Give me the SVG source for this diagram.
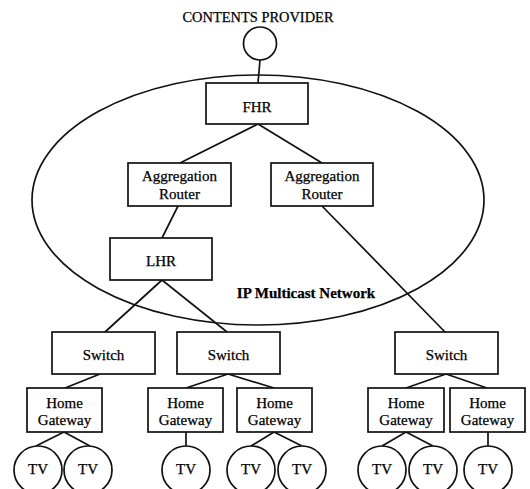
<svg xmlns="http://www.w3.org/2000/svg" width="530" height="489" viewBox="0 0 530 489" font-family="'Liberation Serif', 'DejaVu Serif', serif">
<style>
.box{fill:#fff;stroke:#111;stroke-width:1.7}
.c{fill:#fff;stroke:#111;stroke-width:1.7}
.ln{stroke:#111;stroke-width:1.7;fill:none}
text{font-family:'Liberation Serif','Times New Roman','DejaVu Serif',serif;font-size:15px;fill:#000;text-anchor:middle;stroke:#000;stroke-width:0.25}
.tv{font-size:15px}
.b{font-weight:bold}
</style>
<rect width="530" height="489" fill="#fff"/>
<ellipse cx="258" cy="200" rx="226" ry="125" class="ln"/>
<g id="connectors" class="ln">
<line x1="260" y1="60" x2="258" y2="83"/>
<line x1="258" y1="124" x2="180" y2="163"/>
<line x1="258" y1="124" x2="322" y2="163"/>
<line x1="178" y1="206" x2="162" y2="238"/>
<line x1="162" y1="280" x2="105" y2="332"/>
<line x1="162" y1="280" x2="227" y2="332"/>
<line x1="322" y1="206" x2="445" y2="332"/>
<line x1="100" y1="374" x2="65" y2="388"/>
<line x1="228" y1="374" x2="186" y2="388"/>
<line x1="228" y1="374" x2="274" y2="388"/>
<line x1="446" y1="374" x2="406" y2="388"/>
<line x1="446" y1="374" x2="487" y2="388"/>
<line x1="64" y1="432" x2="36" y2="446"/>
<line x1="64" y1="432" x2="90" y2="446"/>
<line x1="186" y1="432" x2="186" y2="446"/>
<line x1="274" y1="432" x2="251" y2="446"/>
<line x1="274" y1="432" x2="302" y2="446"/>
<line x1="406" y1="432" x2="382" y2="446"/>
<line x1="406" y1="432" x2="433" y2="446"/>
<line x1="488" y1="432" x2="488" y2="446"/>
</g>
<g id="provider">
<text x="258" y="22" font-size="14.5" textLength="151" lengthAdjust="spacingAndGlyphs">CONTENTS PROVIDER</text>
<circle cx="260" cy="43.5" r="16.5" class="c"/>
</g>
<g id="fhr"><rect x="206" y="83" width="102" height="41" class="box"/><text x="257" y="112">FHR</text></g>
<g id="agg1"><rect x="128" y="163" width="103" height="43" class="box"/><text x="179.5" y="181">Aggregation</text><text x="179.5" y="199">Router</text></g>
<g id="agg2"><rect x="271" y="163" width="102" height="43" class="box"/><text x="322" y="181">Aggregation</text><text x="322" y="199">Router</text></g>
<g id="lhr"><rect x="110" y="238" width="102" height="42" class="box"/><text x="161" y="266">LHR</text></g>
<g id="network-label"><text x="306" y="298" class="b">IP Multicast Network</text></g>
<g id="sw1"><rect x="52" y="332" width="103" height="42" class="box"/><text x="103.5" y="360">Switch</text></g>
<g id="sw2"><rect x="177" y="332" width="103" height="42" class="box"/><text x="228.5" y="360">Switch</text></g>
<g id="sw3"><rect x="395" y="332" width="103" height="42" class="box"/><text x="446.5" y="360">Switch</text></g>
<g id="hg1"><rect x="27" y="388" width="75" height="44" class="box"/><text x="64.5" y="408">Home</text><text x="64.5" y="425">Gateway</text></g>
<g id="hg2"><rect x="148" y="388" width="75" height="44" class="box"/><text x="185.5" y="408">Home</text><text x="185.5" y="425">Gateway</text></g>
<g id="hg3"><rect x="237" y="388" width="75" height="44" class="box"/><text x="274.5" y="408">Home</text><text x="274.5" y="425">Gateway</text></g>
<g id="hg4"><rect x="368" y="388" width="76" height="44" class="box"/><text x="406" y="408">Home</text><text x="406" y="425">Gateway</text></g>
<g id="hg5"><rect x="450" y="388" width="75" height="44" class="box"/><text x="487.5" y="408">Home</text><text x="487.5" y="425">Gateway</text></g>
<g id="tv1"><circle cx="38" cy="470" r="24" class="c"/><text x="38" y="474" class="tv">TV</text></g>
<g id="tv2"><circle cx="88" cy="470" r="24" class="c"/><text x="88" y="474" class="tv">TV</text></g>
<g id="tv3"><circle cx="186" cy="470" r="24" class="c"/><text x="186" y="474" class="tv">TV</text></g>
<g id="tv4"><circle cx="251" cy="470" r="24" class="c"/><text x="251" y="474" class="tv">TV</text></g>
<g id="tv5"><circle cx="302" cy="470" r="24" class="c"/><text x="302" y="474" class="tv">TV</text></g>
<g id="tv6"><circle cx="382" cy="470" r="24" class="c"/><text x="382" y="474" class="tv">TV</text></g>
<g id="tv7"><circle cx="433" cy="470" r="24" class="c"/><text x="433" y="474" class="tv">TV</text></g>
<g id="tv8"><circle cx="488" cy="470" r="24" class="c"/><text x="488" y="474" class="tv">TV</text></g>
</svg>
